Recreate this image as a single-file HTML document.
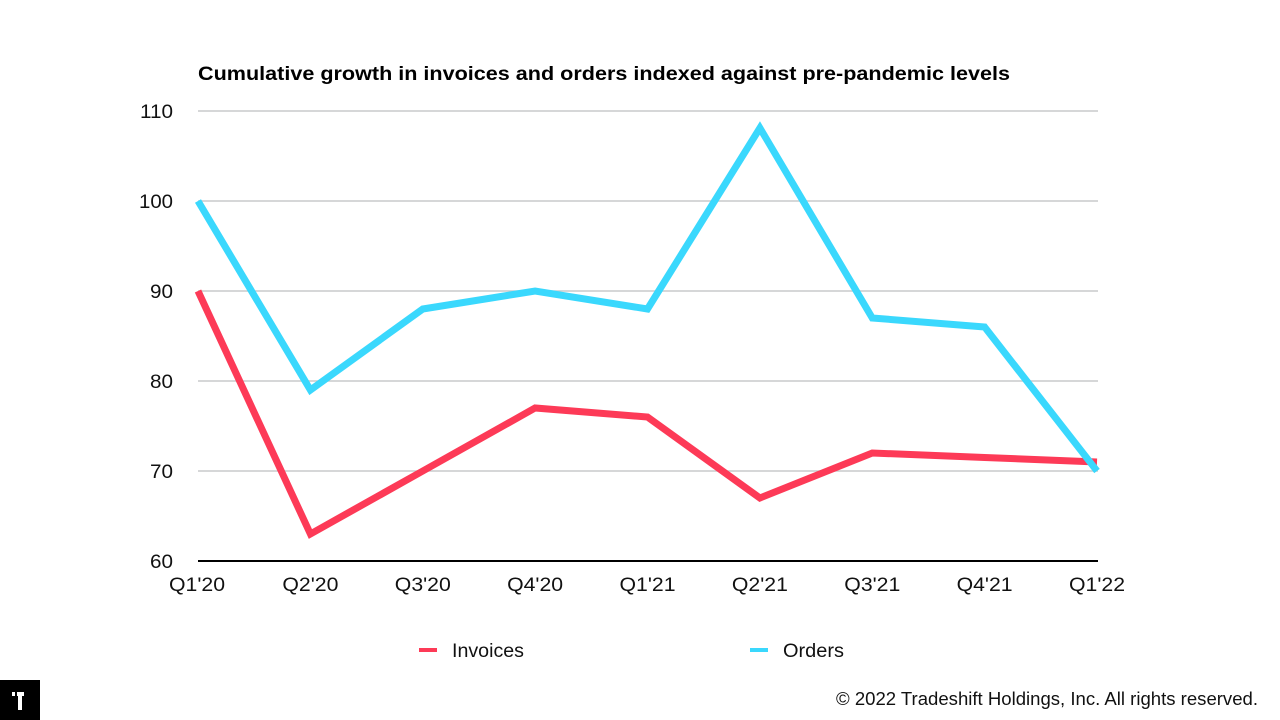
<!DOCTYPE html>
<html>
<head>
<meta charset="utf-8">
<style>
html,body{margin:0;padding:0;background:#fff;}
svg{display:block;}
</style>
</head>
<body>
<svg width="1280" height="720" viewBox="0 0 1280 720" xmlns="http://www.w3.org/2000/svg">
  <rect width="1280" height="720" fill="#fff"/>
  <text x="198" y="80" font-family="Liberation Sans, Arial, sans-serif" font-weight="bold" font-size="19.5" fill="#000" textLength="812" lengthAdjust="spacingAndGlyphs">Cumulative growth in invoices and orders indexed against pre-pandemic levels</text>

  <g stroke="#c8cacb" stroke-width="1.5">
    <line x1="198" y1="111" x2="1098" y2="111"/>
    <line x1="198" y1="201" x2="1098" y2="201"/>
    <line x1="198" y1="291" x2="1098" y2="291"/>
    <line x1="198" y1="381" x2="1098" y2="381"/>
    <line x1="198" y1="471" x2="1098" y2="471"/>
  </g>
  <line x1="198" y1="561" x2="1098" y2="561" stroke="#000" stroke-width="2"/>

  <g font-family="Liberation Sans, Arial, sans-serif" font-size="19" fill="#111" text-anchor="end">
    <text x="173" y="118" textLength="33" lengthAdjust="spacingAndGlyphs">110</text>
    <text x="173" y="208" textLength="34" lengthAdjust="spacingAndGlyphs">100</text>
    <text x="173" y="298" textLength="23" lengthAdjust="spacingAndGlyphs">90</text>
    <text x="173" y="388" textLength="23" lengthAdjust="spacingAndGlyphs">80</text>
    <text x="173" y="478" textLength="23" lengthAdjust="spacingAndGlyphs">70</text>
    <text x="173" y="568" textLength="23" lengthAdjust="spacingAndGlyphs">60</text>
  </g>

  <g font-family="Liberation Sans, Arial, sans-serif" font-size="19" fill="#111" text-anchor="middle">
    <text x="197" y="591" textLength="56" lengthAdjust="spacingAndGlyphs">Q1'20</text>
    <text x="310.4" y="591" textLength="56" lengthAdjust="spacingAndGlyphs">Q2'20</text>
    <text x="422.8" y="591" textLength="56" lengthAdjust="spacingAndGlyphs">Q3'20</text>
    <text x="535.1" y="591" textLength="56" lengthAdjust="spacingAndGlyphs">Q4'20</text>
    <text x="647.5" y="591" textLength="56" lengthAdjust="spacingAndGlyphs">Q1'21</text>
    <text x="759.9" y="591" textLength="56" lengthAdjust="spacingAndGlyphs">Q2'21</text>
    <text x="872.3" y="591" textLength="56" lengthAdjust="spacingAndGlyphs">Q3'21</text>
    <text x="984.6" y="591" textLength="56" lengthAdjust="spacingAndGlyphs">Q4'21</text>
    <text x="1097" y="591" textLength="56" lengthAdjust="spacingAndGlyphs">Q1'22</text>
  </g>

  <polyline fill="none" stroke="#fd3a57" stroke-width="7" stroke-linejoin="miter"
    points="198,291 310.4,534 422.8,471 535.1,408 647.5,417 759.9,498 872.3,453 984.6,457.5 1097,462"/>
  <polyline fill="none" stroke="#3ad8fd" stroke-width="7" stroke-linejoin="miter"
    points="198,201 310.4,390 422.8,309 535.1,291 647.5,309 759.9,128 872.3,318 984.6,327 1097,471"/>

  <line x1="419" y1="650" x2="437" y2="650" stroke="#fd3a57" stroke-width="4"/>
  <text x="452" y="657" font-family="Liberation Sans, Arial, sans-serif" font-size="19" fill="#111" textLength="72" lengthAdjust="spacingAndGlyphs">Invoices</text>
  <line x1="750" y1="650" x2="768" y2="650" stroke="#3ad8fd" stroke-width="4"/>
  <text x="783" y="657" font-family="Liberation Sans, Arial, sans-serif" font-size="19" fill="#111" textLength="61" lengthAdjust="spacingAndGlyphs">Orders</text>

  <text x="836" y="705" font-family="Liberation Sans, Arial, sans-serif" font-size="18" fill="#111" textLength="422" lengthAdjust="spacingAndGlyphs">© 2022 Tradeshift Holdings, Inc. All rights reserved.</text>

  <rect x="0" y="680" width="40" height="40" fill="#000"/>
  <rect x="12" y="692" width="3" height="4" fill="#fff"/>
  <rect x="17" y="692" width="7" height="4" fill="#fff"/>
  <rect x="18" y="692" width="4" height="18" fill="#fff"/>
</svg>
</body>
</html>
